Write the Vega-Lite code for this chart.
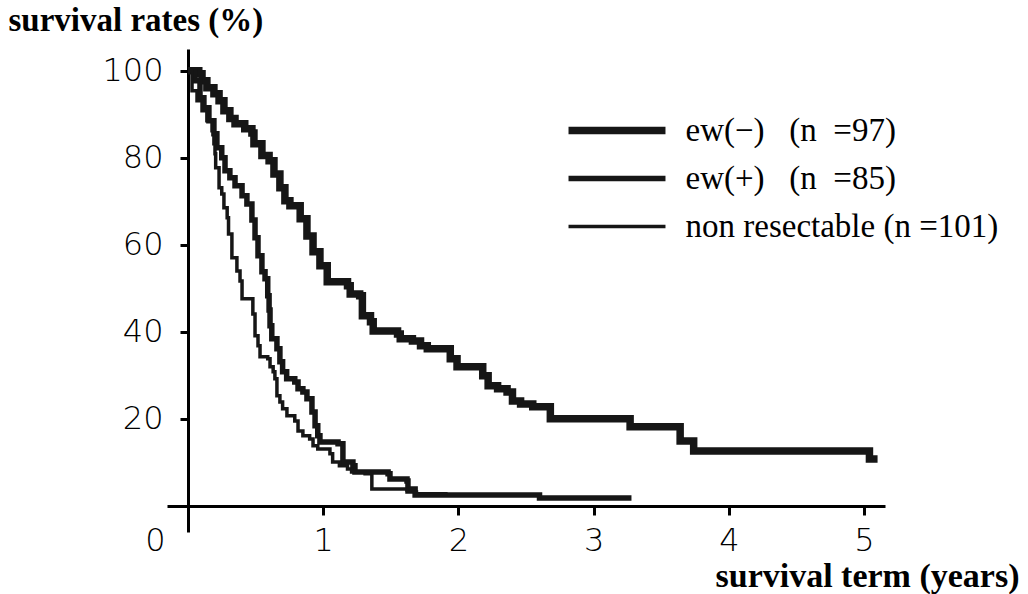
{
  "$schema": "https://vega.github.io/schema/vega-lite/v6.json",
  "width": 718,
  "height": 483,
  "autosize": {"type": "none"},
  "padding": {"left": 167, "top": 49, "right": 143, "bottom": 62},
  "background": "white",
  "config": {"view": {"stroke": null}},
  "datasets": {
    "curves": [
      {"g": "A", "t": 0, "s": 100},
      {"g": "A", "t": 0.08, "s": 99.3},
      {"g": "A", "t": 0.104, "s": 97.7},
      {"g": "A", "t": 0.14, "s": 96.1},
      {"g": "A", "t": 0.192, "s": 94.7},
      {"g": "A", "t": 0.23, "s": 93.1},
      {"g": "A", "t": 0.266, "s": 90.8},
      {"g": "A", "t": 0.31, "s": 89},
      {"g": "A", "t": 0.348, "s": 87.8},
      {"g": "A", "t": 0.42, "s": 86.7},
      {"g": "A", "t": 0.473, "s": 85.7},
      {"g": "A", "t": 0.488, "s": 83.2},
      {"g": "A", "t": 0.547, "s": 80.5},
      {"g": "A", "t": 0.6, "s": 79.3},
      {"g": "A", "t": 0.636, "s": 76.3},
      {"g": "A", "t": 0.68, "s": 73.1},
      {"g": "A", "t": 0.717, "s": 70.1},
      {"g": "A", "t": 0.754, "s": 69},
      {"g": "A", "t": 0.83, "s": 66},
      {"g": "A", "t": 0.88, "s": 62},
      {"g": "A", "t": 0.925, "s": 58.4},
      {"g": "A", "t": 0.976, "s": 55.2},
      {"g": "A", "t": 1.03, "s": 51.5},
      {"g": "A", "t": 1.18, "s": 50.6},
      {"g": "A", "t": 1.2, "s": 48.7},
      {"g": "A", "t": 1.27, "s": 48.3},
      {"g": "A", "t": 1.29, "s": 43.7},
      {"g": "A", "t": 1.35, "s": 42.3},
      {"g": "A", "t": 1.37, "s": 40.2},
      {"g": "A", "t": 1.55, "s": 39.5},
      {"g": "A", "t": 1.57, "s": 38.4},
      {"g": "A", "t": 1.66, "s": 37.9},
      {"g": "A", "t": 1.72, "s": 36.8},
      {"g": "A", "t": 1.77, "s": 36.1},
      {"g": "A", "t": 1.94, "s": 33.8},
      {"g": "A", "t": 1.99, "s": 32},
      {"g": "A", "t": 2.18, "s": 29.9},
      {"g": "A", "t": 2.22, "s": 27.6},
      {"g": "A", "t": 2.29, "s": 26.9},
      {"g": "A", "t": 2.36, "s": 26.2},
      {"g": "A", "t": 2.4, "s": 24.1},
      {"g": "A", "t": 2.46, "s": 23.4},
      {"g": "A", "t": 2.55, "s": 22.8},
      {"g": "A", "t": 2.68, "s": 20},
      {"g": "A", "t": 3.27, "s": 18.2},
      {"g": "A", "t": 3.64, "s": 14.9},
      {"g": "A", "t": 3.74, "s": 12.6},
      {"g": "A", "t": 5.04, "s": 10.8},
      {"g": "A", "t": 5.1, "s": 10.8},

      {"g": "B", "t": 0, "s": 100},
      {"g": "B", "t": 0.052, "s": 97.7},
      {"g": "B", "t": 0.089, "s": 93.8},
      {"g": "B", "t": 0.118, "s": 91.5},
      {"g": "B", "t": 0.155, "s": 88.5},
      {"g": "B", "t": 0.192, "s": 85.5},
      {"g": "B", "t": 0.214, "s": 82.3},
      {"g": "B", "t": 0.25, "s": 80},
      {"g": "B", "t": 0.274, "s": 77},
      {"g": "B", "t": 0.31, "s": 75.4},
      {"g": "B", "t": 0.348, "s": 73.6},
      {"g": "B", "t": 0.4, "s": 71.3},
      {"g": "B", "t": 0.436, "s": 69.4},
      {"g": "B", "t": 0.473, "s": 65.7},
      {"g": "B", "t": 0.496, "s": 61.6},
      {"g": "B", "t": 0.518, "s": 57.5},
      {"g": "B", "t": 0.547, "s": 53.8},
      {"g": "B", "t": 0.57, "s": 52.2},
      {"g": "B", "t": 0.59, "s": 48.3},
      {"g": "B", "t": 0.6, "s": 45},
      {"g": "B", "t": 0.607, "s": 41.4},
      {"g": "B", "t": 0.62, "s": 38.4},
      {"g": "B", "t": 0.658, "s": 36.1},
      {"g": "B", "t": 0.68, "s": 33.1},
      {"g": "B", "t": 0.7, "s": 30.8},
      {"g": "B", "t": 0.73, "s": 29.2},
      {"g": "B", "t": 0.79, "s": 28.5},
      {"g": "B", "t": 0.814, "s": 26.9},
      {"g": "B", "t": 0.85, "s": 26.2},
      {"g": "B", "t": 0.88, "s": 24.6},
      {"g": "B", "t": 0.917, "s": 21.6},
      {"g": "B", "t": 0.94, "s": 18.4},
      {"g": "B", "t": 0.96, "s": 16.1},
      {"g": "B", "t": 0.976, "s": 14.7},
      {"g": "B", "t": 1.11, "s": 14.3},
      {"g": "B", "t": 1.146, "s": 10.1},
      {"g": "B", "t": 1.22, "s": 9.2},
      {"g": "B", "t": 1.235, "s": 7.8},
      {"g": "B", "t": 1.48, "s": 7.4},
      {"g": "B", "t": 1.494, "s": 6.2},
      {"g": "B", "t": 1.62, "s": 5.7},
      {"g": "B", "t": 1.627, "s": 3.9},
      {"g": "B", "t": 1.68, "s": 2.5},
      {"g": "B", "t": 2.6, "s": 1.8},
      {"g": "B", "t": 3.28, "s": 1.8},

      {"g": "C", "t": 0, "s": 100},
      {"g": "C", "t": 0.03, "s": 95.4},
      {"g": "C", "t": 0.067, "s": 93.1},
      {"g": "C", "t": 0.104, "s": 90.8},
      {"g": "C", "t": 0.14, "s": 88.5},
      {"g": "C", "t": 0.178, "s": 86.2},
      {"g": "C", "t": 0.192, "s": 83.2},
      {"g": "C", "t": 0.2, "s": 80.9},
      {"g": "C", "t": 0.205, "s": 77.7},
      {"g": "C", "t": 0.23, "s": 73.1},
      {"g": "C", "t": 0.25, "s": 71.7},
      {"g": "C", "t": 0.266, "s": 68.5},
      {"g": "C", "t": 0.29, "s": 66.2},
      {"g": "C", "t": 0.3, "s": 62.5},
      {"g": "C", "t": 0.325, "s": 57},
      {"g": "C", "t": 0.362, "s": 54},
      {"g": "C", "t": 0.385, "s": 51.7},
      {"g": "C", "t": 0.4, "s": 47.6},
      {"g": "C", "t": 0.48, "s": 44.1},
      {"g": "C", "t": 0.496, "s": 39.1},
      {"g": "C", "t": 0.518, "s": 36.8},
      {"g": "C", "t": 0.533, "s": 34.3},
      {"g": "C", "t": 0.59, "s": 33.8},
      {"g": "C", "t": 0.607, "s": 32},
      {"g": "C", "t": 0.63, "s": 30.8},
      {"g": "C", "t": 0.643, "s": 29.2},
      {"g": "C", "t": 0.658, "s": 25.3},
      {"g": "C", "t": 0.68, "s": 23.9},
      {"g": "C", "t": 0.7, "s": 22.3},
      {"g": "C", "t": 0.732, "s": 20.7},
      {"g": "C", "t": 0.79, "s": 19.5},
      {"g": "C", "t": 0.814, "s": 17.2},
      {"g": "C", "t": 0.85, "s": 16.1},
      {"g": "C", "t": 0.9, "s": 15.4},
      {"g": "C", "t": 0.925, "s": 13.8},
      {"g": "C", "t": 0.96, "s": 13.1},
      {"g": "C", "t": 1.05, "s": 12},
      {"g": "C", "t": 1.07, "s": 10.1},
      {"g": "C", "t": 1.12, "s": 9.2},
      {"g": "C", "t": 1.18, "s": 8.5},
      {"g": "C", "t": 1.21, "s": 7.8},
      {"g": "C", "t": 1.31, "s": 7.4},
      {"g": "C", "t": 1.36, "s": 3.9},
      {"g": "C", "t": 1.62, "s": 3.2},
      {"g": "C", "t": 1.69, "s": 2.8},
      {"g": "C", "t": 1.92, "s": 2.8}
    ]
  },
  "data": {"name": "curves"},
  "mark": {"type": "line", "interpolate": "step-after", "stroke": "#161616", "strokeCap": "butt", "strokeJoin": "miter", "clip": false},
  "encoding": {
    "x": {
      "field": "t", "type": "quantitative",
      "scale": {"domain": [-0.155, 5.155], "nice": false, "zero": false},
      "axis": {
        "values": [0, 1, 2, 3, 4, 5], "offset": -26, "grid": false,
        "domainColor": "black", "domainWidth": 3,
        "tickColor": "black", "tickWidth": 3, "tickSize": 9,
        "labelFont": "DejaVu Sans", "labelFontSize": 32, "labelFontWeight": 300, "labelColor": "black", "labelPadding": 10,
        "labelFlush": false, "labelOverlap": false,
        "labelOffset": {"condition": {"test": "datum.value === 0", "value": -33}, "value": 0},
        "title": "survival term (years)", "titleFont": "Liberation Serif", "titleFontWeight": "bold",
        "titleFontSize": 34, "titleColor": "black", "titleAlign": "right", "titleBaseline": "alphabetic",
        "titleX": 852, "titleY": 80
      }
    },
    "y": {
      "field": "s", "type": "quantitative",
      "scale": {"domain": [-6, 105], "nice": false, "zero": false},
      "axis": {
        "values": [20, 40, 60, 80, 100], "offset": -21, "grid": false,
        "domainColor": "black", "domainWidth": 3,
        "tickColor": "black", "tickWidth": 3, "tickSize": 8,
        "labelFont": "DejaVu Sans", "labelFontSize": 32, "labelFontWeight": 300, "labelColor": "black", "labelPadding": 17,
        "labelFlush": false, "labelOverlap": false,
        "title": "survival rates (%)", "titleFont": "Liberation Serif", "titleFontWeight": "bold",
        "titleFontSize": 33, "titleColor": "black", "titleAngle": 0, "titleAlign": "left",
        "titleBaseline": "alphabetic", "titleX": -180, "titleY": -19
      }
    },
    "strokeWidth": {
      "field": "g", "type": "ordinal",
      "scale": {"domain": ["A", "B", "C"], "range": [7.5, 3.5, 1.4]},
      "legend": {
        "orient": "none", "legendX": 433.5, "legendY": 65, "title": null, "padding": 0,
        "symbolType": "M-10,0H10", "symbolSize": 94, "symbolStrokeColor": "#161616",
        "symbolFillColor": "transparent",
        "labelExpr": "datum.value === 'A' ? 'ew(\u2212)\u00a0\u00a0\u00a0(n\u00a0\u00a0=97)' : datum.value === 'B' ? 'ew(+)\u00a0\u00a0\u00a0(n\u00a0\u00a0=85)' : '\u00a0non resectable (n =101)'",
        "labelFont": "Liberation Serif", "labelFontSize": 33, "labelColor": "black",
        "labelOffset": 52, "rowPadding": 14, "labelLimit": 0
      }
    }
  }
}
